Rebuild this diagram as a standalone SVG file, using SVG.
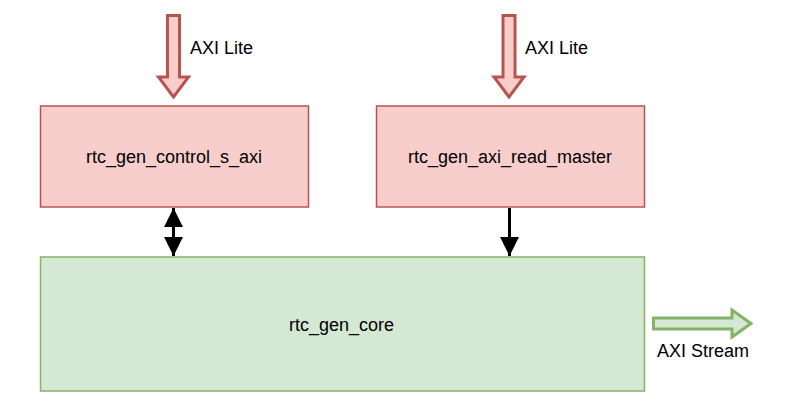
<svg xmlns="http://www.w3.org/2000/svg" width="800" height="420" viewBox="0 0 800 420">
<style>
.red{fill:#f8cecc;stroke:#b85450;stroke-width:1.5}
.green{fill:#d5e8d4;stroke:#82b366;stroke-width:1.5}
.lbl{font-family:"Liberation Sans",Arial,sans-serif;font-size:18px;fill:#000}
.mid{text-anchor:middle}
.wire{stroke:#000;stroke-width:3;fill:none}
.blockred{fill:#f8cecc;stroke:#b85450;stroke-width:3;stroke-linejoin:miter}
.blockgreen{fill:#d5e8d4;stroke:#82b366;stroke-width:3;stroke-linejoin:miter}
</style>
<defs>
<marker id="ah" viewBox="0 0 10 10" refX="10" refY="5" markerWidth="6.3" markerHeight="6.3" orient="auto-start-reverse" markerUnits="strokeWidth">
<path d="M0,0 L10,5 L0,10 Z" fill="#000"/>
</marker>
</defs>
<rect width="800" height="420" fill="#fff"/>
<g id="axi-lite-1">
<polygon class="blockred" points="167.5,15.5 179.5,15.5 179.5,77 188.5,77 173.5,97 158.5,77 167.5,77"/>
<text class="lbl" x="190" y="54">AXI Lite</text>
</g>
<g id="axi-lite-2">
<polygon class="blockred" points="503,15.5 515,15.5 515,77 524,77 509,97 494,77 503,77"/>
<text class="lbl" x="525" y="54">AXI Lite</text>
</g>
<g id="rtc_gen_control_s_axi">
<rect class="red" x="40.5" y="106" width="268" height="101"/>
<text class="lbl mid" x="174" y="163">rtc_gen_control_s_axi</text>
</g>
<g id="rtc_gen_axi_read_master">
<rect class="red" x="376.5" y="106" width="268" height="101"/>
<text class="lbl mid" x="510" y="163">rtc_gen_axi_read_master</text>
</g>
<g id="rtc_gen_core">
<rect class="green" x="40.5" y="257" width="604" height="134"/>
<text class="lbl mid" x="341.5" y="331">rtc_gen_core</text>
</g>
<g id="axi-stream">
<polygon class="blockgreen" points="653.5,318 732,318 732,310 751,323.5 732,337 732,329 653.5,329"/>
<text class="lbl mid" x="703" y="357">AXI Stream</text>
</g>
<g id="connectors">
<line class="wire" x1="173.5" y1="208" x2="173.5" y2="256" marker-start="url(#ah)" marker-end="url(#ah)"/>
<line class="wire" x1="509.5" y1="208" x2="509.5" y2="256" marker-end="url(#ah)"/>
</g>
</svg>
